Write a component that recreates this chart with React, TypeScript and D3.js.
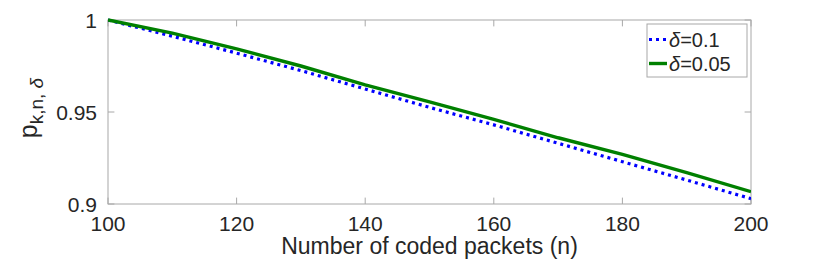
import React from "react";
import * as d3 from "d3";

const nValues = [100, 110, 120, 130, 140, 150, 160, 170, 180, 190, 200];
const seriesDelta01 = [1.0, 0.9912, 0.982, 0.9725, 0.9625, 0.9525, 0.943, 0.933, 0.923, 0.913, 0.9029];
const seriesDelta005 = [1.0, 0.9929, 0.9843, 0.975, 0.9647, 0.9555, 0.946, 0.936, 0.927, 0.917, 0.9067];
const xTicks = [100, 120, 140, 160, 180, 200];
const yTicks = [0.9, 0.95, 1];
const yTickLabels = ["0.9", "0.95", "1"];
const legendLabels = ["0.1", "0.05"];

const W = 830;
const H = 264;
const M = { left: 108, right: 751, top: 20, bottom: 204 };
const FONT = "'Liberation Sans', Arial, Helvetica, sans-serif";
const AXIS = "#a8a8a8";
const TEXT = "#262626";

export default function App() {
  const x = d3.scaleLinear().domain([100, 200]).range([M.left, M.right]);
  const y = d3.scaleLinear().domain([0.9, 1]).range([M.bottom, M.top]);
  const line = d3
    .line<number>()
    .x((_, i) => x(nValues[i]))
    .y((d) => y(d));
  const tl = 6.4;

  const series = [
    { data: seriesDelta01, color: "#0000ff", dash: "3 4", width: 3.2 },
    { data: seriesDelta005, color: "#008000", dash: undefined, width: 3.4 },
  ];

  return (
    <svg
      width={W}
      height={H}
      style={{ position: "absolute", left: 0, top: 0, background: "#fff" }}
      fontFamily={FONT}
    >
      <rect x={0} y={0} width={W} height={H} fill="#fff" />
      <defs>
        <clipPath id="plotclip">
          <rect x={M.left} y={M.top - 3} width={M.right - M.left} height={M.bottom - M.top + 6} />
        </clipPath>
      </defs>
      {xTicks.map((t) => (
        <g key={"xt" + t}>
          <line x1={x(t)} x2={x(t)} y1={M.bottom} y2={M.bottom - tl} stroke={AXIS} />
          <line x1={x(t)} x2={x(t)} y1={M.top} y2={M.top + tl} stroke={AXIS} />
          <text x={x(t)} y={231} fontSize={21} fill={TEXT} textAnchor="middle">
            {t}
          </text>
        </g>
      ))}
      {yTicks.map((t, i) => (
        <g key={"yt" + t}>
          <line x1={M.left} x2={M.left + tl} y1={y(t)} y2={y(t)} stroke={AXIS} />
          <line x1={M.right} x2={M.right - tl} y1={y(t)} y2={y(t)} stroke={AXIS} />
          <text x={97} y={y(t)} dy="0.36em" fontSize={21} fill={TEXT} textAnchor="end">
            {yTickLabels[i]}
          </text>
        </g>
      ))}
      <rect
        x={M.left}
        y={M.top}
        width={M.right - M.left}
        height={M.bottom - M.top}
        fill="none"
        stroke={AXIS}
        strokeWidth={1}
      />
      <g clipPath="url(#plotclip)">
        {series.map((s, i) => (
          <path
            key={i}
            d={line(s.data) || ""}
            fill="none"
            stroke={s.color}
            strokeWidth={s.width}
            strokeDasharray={s.dash}
          />
        ))}
      </g>
      <text x={(M.left + M.right) / 2} y={254} fontSize={23} fill={TEXT} textAnchor="middle">
        Number of coded packets (n)
      </text>
      <text transform={`translate(37,108) rotate(-90)`} fill={TEXT} textAnchor="middle">
        <tspan fontSize={25}>p</tspan>
        <tspan fontSize={19} dy={6}>
          k,n, <tspan fontStyle="italic">δ</tspan>
        </tspan>
      </text>
      <rect x={647} y={24} width={100} height={53} fill="#fff" stroke={AXIS} />
      {series.map((s, i) => {
        const cy = 39.5 + i * 24;
        return (
          <g key={"lg" + i}>
            <line
              x1={649}
              x2={667}
              y1={cy}
              y2={cy}
              stroke={s.color}
              strokeWidth={s.width}
              strokeDasharray={s.dash}
            />
            <text x={669} y={cy} dy="0.36em" fontSize={20} fill={TEXT}>
              <tspan fontStyle="italic">δ</tspan>={legendLabels[i]}
            </text>
          </g>
        );
      })}
    </svg>
  );
}
